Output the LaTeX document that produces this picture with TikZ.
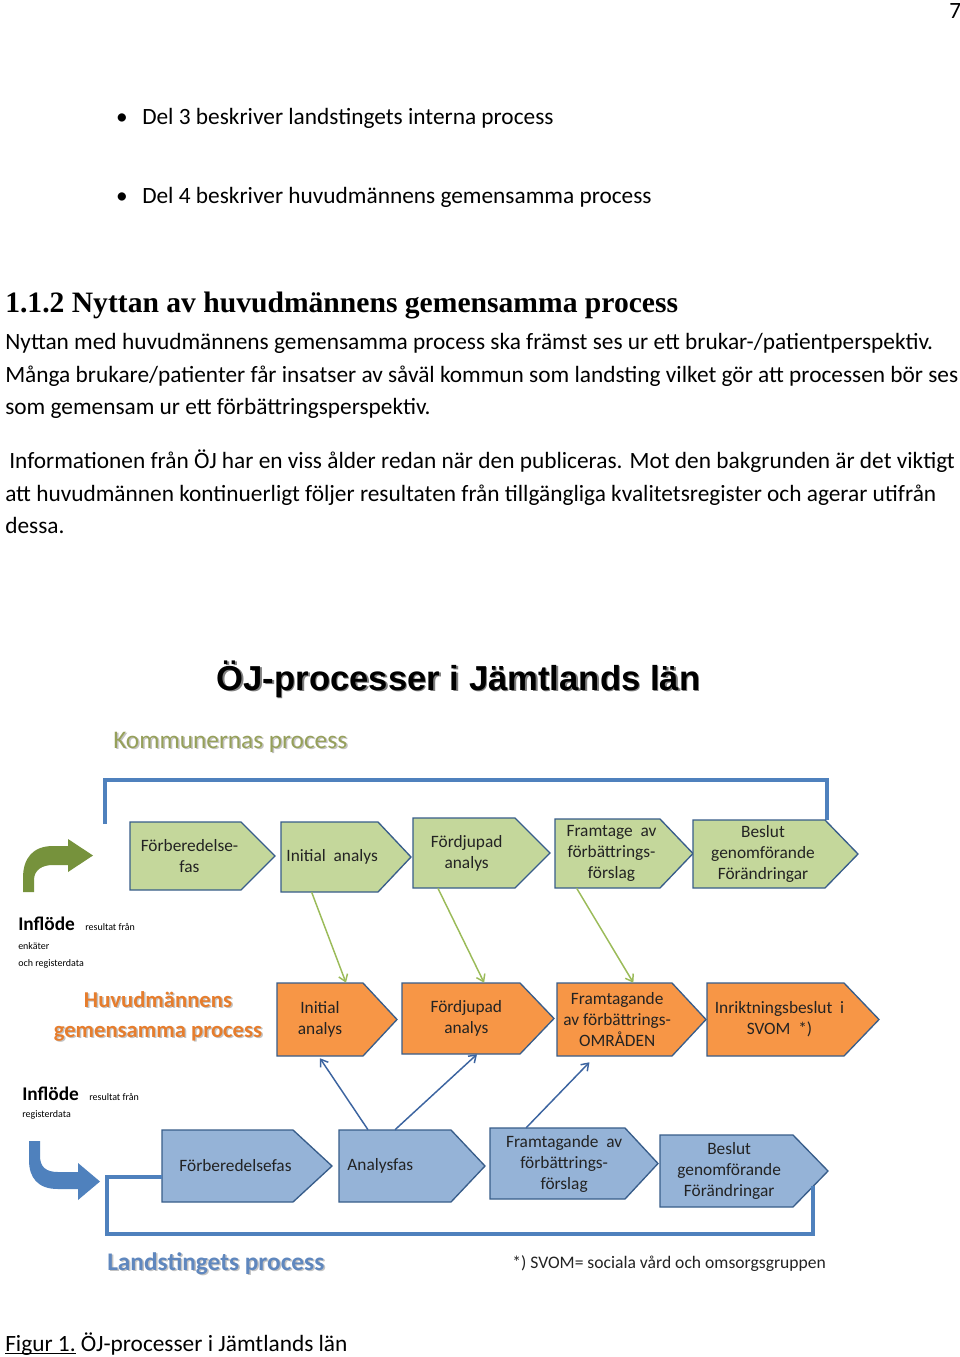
\documentclass[tikz,border=0pt]{standalone}
\usepackage{fontspec}
\setmainfont{Carlito}
\newfontfamily\headfont{Liberation Serif}
\newfontfamily\titlefont{Liberation Sans}
\usetikzlibrary{calc,arrows.meta}
\definecolor{bordc}{RGB}{56,93,138}
\definecolor{gfill}{RGB}{196,215,155}
\definecolor{ofill}{RGB}{247,150,70}
\definecolor{bfill}{RGB}{149,179,215}
\definecolor{brk}{RGB}{79,129,189}
\definecolor{gline}{RGB}{155,187,89}
\definecolor{bline}{RGB}{60,100,160}
\definecolor{garrow}{RGB}{118,146,60}
\definecolor{olivetxt}{RGB}{150,160,90}
\definecolor{orangetxt}{RGB}{230,125,45}
\definecolor{bluetxt}{RGB}{95,135,190}
\definecolor{boxtxt}{RGB}{35,35,35}
\definecolor{shadowc}{RGB}{195,195,195}
\tikzset{
  body/.style={anchor=base west, inner sep=0pt, font=\fontsize{17.5}{20}\selectfont, text=black},
  boxlbl/.style={inner sep=0pt, align=center, text=boxtxt, font=\fontsize{13}{15.75}\selectfont},
  brack/.style={draw=brk, line width=3pt},
  gconn/.style={draw=gline, line width=1.1pt, -{Straight Barb[length=5pt,width=7pt]}},
  bconn/.style={draw=bline, line width=1.1pt, -{Straight Barb[length=5pt,width=7pt]}},
  gshape/.style={fill=gfill, draw=bordc, line width=1pt},
  oshape/.style={fill=ofill, draw=bordc, line width=1pt},
  bshape/.style={fill=bfill, draw=bordc, line width=1pt},
  inflow/.style={anchor=base west, inner sep=0pt, font=\fontsize{14.5}{16}\selectfont\bfseries, text=black},
  tiny/.style={anchor=base west, inner sep=0pt, font=\fontsize{7.5}{9}\selectfont, text=black},
  bigtxt/.style={inner sep=0pt, font=\fontsize{19}{22}\selectfont},
  bigbold/.style={inner sep=0pt, font=\fontsize{19}{22}\selectfont\bfseries},
  midbold/.style={inner sep=0pt, font=\fontsize{17}{20}\selectfont\bfseries},
}
% name, left, top, rectend, tip, bottom, shape style, text, extra node options
\newcommand\procbox[9]{%
  \path[#7] (#2,#3) -- (#4,#3) -- (#5,{(#3+#6)/2}) -- (#4,#6) -- (#2,#6) -- cycle;
  \node[boxlbl, minimum width={(#4-#2)*0.75pt}, minimum height={(#6-#3)*0.75pt}, #9] (#1) at ({(#2+#4)/2},{(#3+#6)/2}) {#8};
}
\newcommand\ulword[1]{{\setbox0\hbox{#1}\rlap{\rule[-2.6pt]{\wd0}{0.9pt}}\box0}}
\begin{document}
\begin{tikzpicture}[x=0.75pt,y=-0.75pt]
\useasboundingbox[fill=white] (0,0) rectangle (960,1357);
% page number
\node[body] (pnum) at (949,18) {7};
% bullets
\node[body, anchor=base] (bul1) at (122,124) {•};
\node[body] (bt1) at (142,124) {Del 3 beskriver landstingets interna process};
\node[body, anchor=base] (bul2) at (122,203) {•};
\node[body] (bt2) at (142,203) {Del 4 beskriver huvudmännens gemensamma process};
% heading
\node[body, font=\headfont\bfseries\fontsize{22.2}{26}\selectfont] (head) at (5,312) {1.1.2 Nyttan av huvudmännens gemensamma process};
% paragraphs
\node[body] (l1) at (5,349) {Nyttan med huvudmännens gemensamma process ska främst ses ur ett brukar-/patientperspektiv.};
\node[body] (l2) at (5,382) {Många brukare/patienter får insatser av såväl kommun som landsting vilket gör att processen bör ses};
\node[body] (l3) at (5,414) {som gemensam ur ett förbättringsperspektiv.};
\node[body] (l4) at (9,468) {Informationen från ÖJ har en viss ålder redan när den publiceras. Mot den bakgrunden är det viktigt};
\node[body] (l5) at (5,501) {att huvudmännen kontinuerligt följer resultaten från tillgängliga kvalitetsregister och agerar utifrån};
\node[body] (l6) at (5,533) {dessa.};
% diagram title
\node[anchor=base, inner sep=0pt, font=\titlefont\bfseries\fontsize{26}{30}\selectfont, text=gray] (titsh) at (460,691.5) {ÖJ-processer i Jämtlands län};
\node[anchor=base, inner sep=0pt, font=\titlefont\bfseries\fontsize{26}{30}\selectfont, text=black] (tit) at (458.5,690) {ÖJ-processer i Jämtlands län};
% Kommunernas process
\node[bigtxt, anchor=base west, text=shadowc] (komsh) at (114.5,749.5) {Kommunernas process};
\node[bigtxt, anchor=base west, text=olivetxt] (kom) at (113,748) {Kommunernas process};
% top bracket
\coordinate (tbl) at (105,824);
\coordinate (tbr) at (827,820);
\draw[brack] (tbl) -- (105,780) -- (827,780) -- (tbr);
% green boxes
\procbox{g1}{130}{822}{241}{275}{890}{gshape}{Förberedelse-\\fas}{xshift=3pt}
\procbox{g2}{281}{822}{378}{411}{892}{gshape}{Initial\ \ analys}{xshift=2pt}
\procbox{g3}{413}{818}{515}{550}{888}{gshape}{Fördjupad\\analys}{xshift=2pt}
\procbox{g4}{555}{819}{660}{693}{888}{gshape}{Framtage\ \ av\\förbättrings-\\förslag}{xshift=3pt}
\procbox{g5}{693}{820}{825}{858}{888}{gshape}{Beslut\\genomförande\\Förändringar}{xshift=3pt}
% green bent arrow
\fill[garrow] (23,892) -- (23,878) .. controls (23,858) and (33,846) .. (53,846) -- (68,846) -- (68,839) -- (93,855.5) -- (68,872) -- (68,865) -- (53,865) .. controls (42,865) and (34,870) .. (34,880) -- (34,892) -- cycle;
% Inflöde 1
\node[inflow] (inf1) at (18,930) {Inflöde};
\node[tiny] (inf1a) at (85,930) {resultat från};
\node[tiny] (inf1b) at (18,949) {enkäter};
\node[tiny] (inf1c) at (18,966) {och registerdata};
% Huvudmännens
\node[midbold, anchor=base, text=shadowc] (huvsh1) at (159.5,1008.5) {Huvudmännens};
\node[midbold, anchor=base, text=orangetxt] (huv1) at (158,1007) {Huvudmännens};
\node[midbold, anchor=base, text=shadowc] (huvsh2) at (159.5,1038.5) {gemensamma process};
\node[midbold, anchor=base, text=orangetxt] (huv2) at (158,1037) {gemensamma process};
% orange boxes
\procbox{o1}{277}{983}{363}{397}{1056}{oshape}{Initial\\analys}{}
\procbox{o2}{402}{983}{520}{554}{1054}{oshape}{Fördjupad\\analys}{xshift=4pt}
\procbox{o3}{557}{983}{672}{706}{1056}{oshape}{Framtagande\\av förbättrings-\\OMRÅDEN}{xshift=2pt}
\procbox{o4}{707}{983}{844}{879}{1056}{oshape}{Inriktningsbeslut\ \ i\\SVOM\ \ *)}{xshift=3pt}
% Inflöde 2
\node[inflow] (inf2) at (22,1100) {Inflöde};
\node[tiny] (inf2a) at (89,1100) {resultat från};
\node[tiny] (inf2b) at (22,1117) {registerdata};
% blue boxes
\procbox{b1}{162}{1130}{293}{332}{1202}{bshape}{\hspace*{12pt}Förberedelsefas}{}
\procbox{b2}{339}{1130}{451}{485}{1202}{bshape}{\hspace*{4pt}Analysfas\hspace*{26pt}}{}
\procbox{b3}{490}{1128}{625}{658}{1199}{bshape}{Framtagande\ \ av\\förbättrings-\\förslag}{xshift=5pt}
\procbox{b4}{660}{1135}{793}{828}{1207}{bshape}{Beslut\\genomförande\\Förändringar}{xshift=2pt}
% blue bent arrow
\fill[brk] (29,1141) -- (29,1160) .. controls (29,1178) and (38,1189) .. (58,1189) -- (78,1189) -- (78,1200) -- (100,1181.5) -- (78,1163) -- (78,1172) -- (58,1172) .. controls (46,1172) and (40,1167) .. (40,1156) -- (40,1141) -- cycle;
% bottom bracket
\coordinate (bbl) at (162,1177);
\coordinate (bbr) at (813,1186);
\draw[brack] (bbl) -- (107,1177) -- (107,1234) -- (813,1234) -- (bbr);
% green connectors
\draw[gconn] ($(g2.south west)!0.29!(g2.south east)$) -- ($(o1.north west)!0.8!(o1.north east)$);
\draw[gconn] ($(g3.south west)!0.22!(g3.south east)$) -- ($(o2.north west)!0.65!(o2.north east)$);
\draw[gconn] ($(g4.south west)!0.17!(g4.south east)$) -- ($(o3.north west)!0.64!(o3.north east)$);
% blue connectors
\draw[bconn] ($(b2.north west)!0.26!(b2.north east)$) -- ($(o1.south west)!0.5!(o1.south east)+(0,2)$);
\draw[bconn] ($(b2.north west)!0.5!(b2.north east)$) -- ($(o2.south west)!0.59!(o2.south east)$);
\draw[bconn] ($(b3.north west)!0.22!(b3.north east)$) -- ($(o3.south west)!0.26!(o3.south east)+(0,6)$);
% labels
\node[bigbold, anchor=base west, text=shadowc] (landsh) at (108.5,1271.5) {Landstingets process};
\node[bigbold, anchor=base west, text=bluetxt] (land) at (107,1270) {Landstingets process};
\node[anchor=base west, inner sep=0pt, font=\fontsize{13.2}{15}\selectfont, text=boxtxt] (svom) at (512,1268) {*) SVOM= sociala vård och omsorgsgruppen};
% caption
\node[body] (cap) at (5,1351) {\ulword{Figur 1.} ÖJ-processer i Jämtlands län};
\end{tikzpicture}
\end{document}
